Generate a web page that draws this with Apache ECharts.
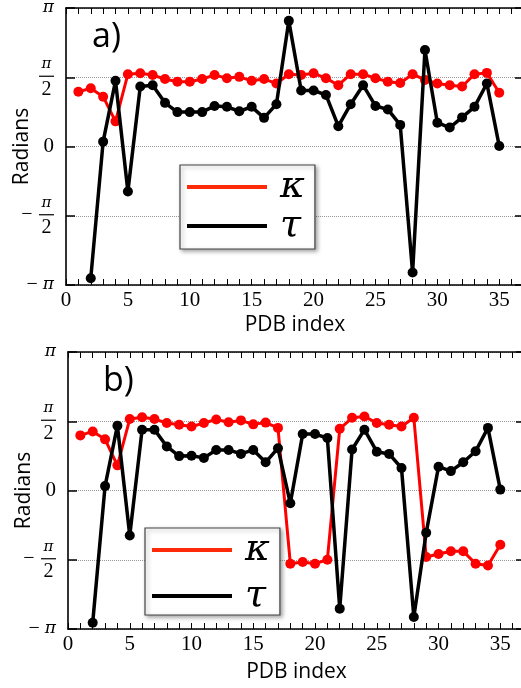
<!DOCTYPE html>
<html><head><meta charset="utf-8">
<script src="https://cdn.jsdelivr.net/npm/echarts@6/dist/echarts.min.js"></script>
<style>html,body{margin:0;padding:0;background:#fff}#c{width:521px;height:688px}</style>
</head><body><div id="c"></div>
<script>
// ---- data (radians) ----
const pdbIndex = [1,2,3,4,5,6,7,8,9,10,11,12,13,14,15,16,17,18,19,20,21,22,23,24,25,26,27,28,29,30,31,32,33,34,35];
const kappaA = [1.24,1.32,1.13,0.57,1.64,1.66,1.62,1.53,1.47,1.47,1.53,1.62,1.55,1.58,1.49,1.53,1.43,1.64,1.62,1.66,1.55,1.39,1.64,1.64,1.55,1.47,1.44,1.64,1.51,1.43,1.39,1.36,1.64,1.67,1.22];
const tauA   = [null,-2.99,0.11,1.49,-1.02,1.36,1.39,0.99,0.78,0.78,0.78,0.92,0.90,0.80,0.90,0.65,0.96,2.85,1.27,1.27,1.17,0.46,0.96,1.39,0.92,0.84,0.49,-2.86,2.19,0.54,0.43,0.66,0.90,1.43,0.01];
const kappaB = [1.25,1.34,1.16,0.57,1.62,1.66,1.62,1.53,1.49,1.45,1.53,1.61,1.55,1.59,1.50,1.54,1.42,-1.66,-1.62,-1.66,-1.57,1.40,1.65,1.68,1.53,1.49,1.45,1.65,-1.51,-1.44,-1.38,-1.38,-1.66,-1.70,-1.23];
const tauB   = [null,-3.00,0.10,1.47,-1.02,1.38,1.38,1.00,0.78,0.79,0.74,0.92,0.92,0.83,0.92,0.64,0.96,-0.29,1.28,1.28,1.19,-2.68,0.93,1.38,0.88,0.83,0.51,-2.87,-0.96,0.54,0.44,0.64,0.89,1.42,0.02];
const yTickValues = [-Math.PI, -Math.PI/2, 0, Math.PI/2, Math.PI];
const yTickLabels = ['−π', '−π/2', '0', 'π/2', 'π'];
const xTickLabels = ['0','5','10','15','20','25','30','35'];
const seriesNames = ['κ', 'τ'];
const panelLabels = ['a)', 'b)'];

function pairs(vals){ const out=[]; pdbIndex.forEach((x,i)=>{ if(vals[i]!==null) out.push([x, vals[i]]); }); return out; }

const SERIF = 'Liberation Serif';
const richY = {
  n: {fontFamily:'DejaVu Serif', fontStyle:'italic', fontSize:15, width:15, align:'center', lineHeight:19, color:'#000'},
  b: {width:15, height:1.2, backgroundColor:'#000', lineHeight:5, fontSize:1, align:'center'},
  d: {fontFamily:SERIF, fontSize:20, width:15, align:'center', lineHeight:21, color:'#000'},
  s: {width:24, fontSize:12, align:'center'},
  m: {fontFamily:SERIF, fontSize:20, width:24, align:'center', color:'#000', lineHeight:5},
  p: {fontFamily:'DejaVu Serif', fontStyle:'italic', fontSize:17, color:'#000'},
  q: {fontFamily:SERIF, fontSize:20, color:'#000', padding:[0,5,0,0]},
  z: {fontFamily:SERIF, fontSize:21, color:'#000'}
};
function yFmt(v){
  const i = yTickValues.findIndex(t => Math.abs(t - v) < 1e-6);
  if (i < 0) return '';
  const l = yTickLabels[i];
  if (l === 'π/2') return '{n|π}\n{b| }\n{d|2}';
  if (l === '−π/2') return '{s| }{n|π}\n{m|−}{b| }\n{s| }{d|2}';
  if (l === 'π') return '{p|π}';
  if (l === '−π') return '{q|−}{p|π}';
  return '{z|' + l + '}';
}
function xFmt(v){ const s = String(v); return xTickLabels.indexOf(s) >= 0 ? s : ''; }

const grids = [
  {left:66, top:8, width:458, height:277, containLabel:false, outerBoundsMode:'none'},
  {left:68, top:352, width:457, height:277, containLabel:false, outerBoundsMode:'none'}
];
const xAxes = [], yAxes = [], series = [], legends = [], graphics = [];
const sets = [[kappaA, tauA], [kappaB, tauB]];
const legendPos = [{left:180, top:165, gap:1, pad:[3,6,4,7]}, {left:145, top:528, gap:8, pad:[3,6,0,7]}];
const labelPos = [{x:92, y:20}, {x:103, y:364}];
const xNameGap = [30, 33];
grids.forEach((g, gi) => {
  const lineAx = {show:true, onZero:false, lineStyle:{color:'#000', width:1.6}};
  xAxes.push({gridIndex:gi, type:'value', position:'bottom', min:0, max:37, interval:1,
    axisLine:lineAx, axisTick:{show:true, inside:true, length:6, lineStyle:{color:'#000', width:1}},
    axisLabel:{formatter:xFmt, margin:5, fontFamily:SERIF, fontSize:21, color:'#000', showMaxLabel:false},
    splitLine:{show:false},
    name:'PDB index', nameLocation:'middle', nameGap:xNameGap[gi], nameMoveOverlap:false,
    nameTextStyle:{fontFamily:'Open Sans', fontSize:21, color:'#000', verticalAlign:'top'}});
  xAxes.push({gridIndex:gi, type:'value', position:'top', min:0, max:37, interval:1,
    axisLine:lineAx, axisTick:{show:true, inside:true, length:6, lineStyle:{color:'#000', width:1}},
    axisLabel:{show:false}, splitLine:{show:false}});
  yAxes.push({gridIndex:gi, type:'value', position:'left', min:-Math.PI, max:Math.PI, interval:Math.PI/2,
    axisLine:lineAx, axisTick:{show:true, inside:true, length:9, lineStyle:{color:'#000', width:1.5}},
    axisLabel:{formatter:yFmt, rich:richY, margin:12, showMinLabel:true, showMaxLabel:true},
    splitLine:{show:true, lineStyle:{color:'#999', type:'dotted', width:1}},
    name:'Radians', nameLocation:'middle', nameGap:33, nameRotate:90, nameMoveOverlap:false,
    nameTextStyle:{fontFamily:'Open Sans', fontSize:21, color:'#000'}});
  yAxes.push({gridIndex:gi, type:'value', position:'right', min:-Math.PI, max:Math.PI, interval:Math.PI/2,
    axisLine:lineAx, axisTick:{show:true, inside:true, length:9, lineStyle:{color:'#000', width:1.5}},
    axisLabel:{show:false}, splitLine:{show:false}});
  const [k, t] = sets[gi];
  series.push({name:seriesNames[0], type:'line', xAxisIndex:gi*2, yAxisIndex:gi*2, data:pairs(k),
    symbol:'circle', symbolSize:10, color:'#ff0000', lineStyle:{width:3, color:'#ff0000'}, itemStyle:{color:'#ff0000'}, z:2});
  series.push({name:seriesNames[1], type:'line', xAxisIndex:gi*2, yAxisIndex:gi*2, data:pairs(t),
    symbol:'circle', symbolSize:10, color:'#000', lineStyle:{width:3.5, color:'#000'}, itemStyle:{color:'#000'}, z:3});
  const lp = legendPos[gi];
  legends.push({orient:'vertical', left:lp.left, top:lp.top, itemGap:lp.gap, padding:lp.pad,
    icon:'rect', itemWidth:80, itemHeight:4, selectedMode:false,
    backgroundColor:'#fff', borderColor:'#444', borderWidth:1.2,
    shadowBlur:4, shadowOffsetX:2, shadowOffsetY:2, shadowColor:'rgba(0,0,0,0.35)',
    data:[{name:seriesNames[0], itemStyle:{color:'#ff2a0a'}}, {name:seriesNames[1], itemStyle:{color:'#000'}}],
    textStyle:{fontFamily:'DejaVu Serif', fontStyle:'italic', fontSize:38, lineHeight:34, color:'#000', padding:[0,4,0,8]}});
  graphics.push({type:'text', left:labelPos[gi].x, top:labelPos[gi].y,
    style:{text:panelLabels[gi], font:'34px "Open Sans"', fill:'#000'}});
});

const chart = echarts.init(document.getElementById('c'), null, {renderer:'canvas'});
chart.setOption({animation:false, backgroundColor:'#fff', grid:grids, xAxis:xAxes, yAxis:yAxes, series, legend:legends, graphic:graphics});
</script></body></html>
